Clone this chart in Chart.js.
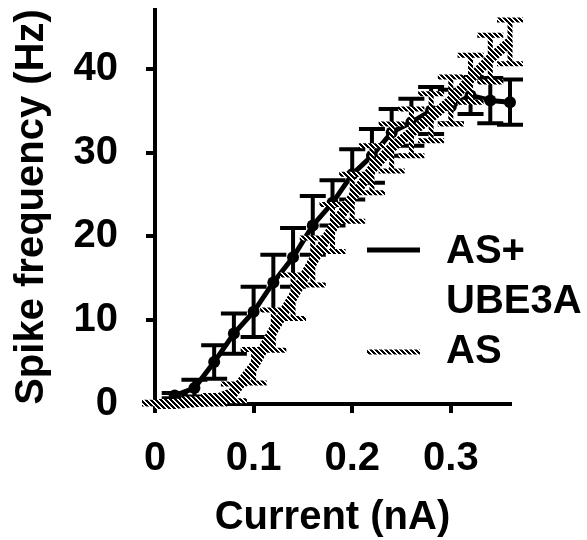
<!DOCTYPE html>
<html>
<head>
<meta charset="utf-8">
<script src="https://cdn.jsdelivr.net/npm/chart.js@4.4.0/dist/chart.umd.min.js"></script>
<style>
  html, body { margin: 0; padding: 0; background: #fff; }
</style>
</head>
<body>
<canvas id="spikeChart" width="587" height="540"></canvas>
<script>
// injected current steps (nA) and mean spike frequency (Hz) +/- SEM
var currentAS = [0, 0.02, 0.04, 0.06, 0.08, 0.10, 0.12, 0.14, 0.16, 0.18, 0.20, 0.22, 0.24, 0.26, 0.28, 0.30, 0.32, 0.34, 0.36];
var freqAS = [0, 0, 0.2, 0.5, 1.4, 4.5, 8.8, 12.8, 17.0, 21.0, 24.6, 28.0, 30.6, 32.4, 34.2, 36.2, 38.8, 41.2, 43.2];
var errAS = [0.2, 0.3, 0.4, 0.5, 1.0, 2.0, 2.4, 2.6, 2.8, 2.8, 2.8, 2.8, 2.8, 2.8, 2.8, 2.8, 2.8, 2.8, 2.6];

var currentUBE = [0.02, 0.04, 0.06, 0.08, 0.10, 0.12, 0.14, 0.16, 0.18, 0.20, 0.22, 0.24, 0.26, 0.28, 0.30, 0.32, 0.34, 0.36];
var freqUBE = [1.0, 1.9, 5.0, 8.4, 11.0, 14.5, 17.5, 21.3, 24.0, 27.4, 29.6, 32.4, 33.6, 35.0, 35.5, 36.8, 36.2, 36.0];
var errUBE = [0.3, 1.0, 2.0, 2.4, 3.0, 3.3, 3.5, 3.5, 2.7, 3.0, 3.2, 2.8, 2.8, 2.8, 2.0, 2.2, 2.7, 2.7];

var xTickValues = [0, 0.1, 0.2, 0.3];
var yTickValues = [0, 10, 20, 30, 40];
var legendUBE = ["AS+", "UBE3A"];
var legendAS = ["AS"];

var FONT = "'Liberation Sans', Arial, sans-serif";

// diagonal hatch used for the AS series
function makeHatch() {
    var c = document.createElement('canvas');
    c.width = 5; c.height = 5;
    var g = c.getContext('2d');
    g.fillStyle = '#fff';
    g.fillRect(0, 0, 5, 5);
    g.fillStyle = '#000';
    for (var y = 0; y < 5; y++) {
        for (var x = 0; x < 5; x++) {
            var d = ((x - y) % 5 + 5) % 5;
            if (d < 3) g.fillRect(x, y, 1, 1);
        }
    }
    return g.createPattern(c, 'repeat');
}
var hatch = makeHatch();

function toPoints(xs, ys) {
    return xs.map(function (x, i) { return { x: x, y: ys[i] }; });
}

var errorSets = [errAS, errUBE];
var errorWidths = [5, 4];

var errorBars = {
    id: 'errorBars',
    beforeDatasetDraw: function (chart, args) {
        var errs = errorSets[args.index];
        var ds = chart.data.datasets[args.index];
        var xs = chart.scales.x, ys = chart.scales.y, ctx = chart.ctx;
        ctx.save();
        ctx.strokeStyle = ds.borderColor;
        ctx.lineWidth = errorWidths[args.index];
        ds.data.forEach(function (p, i) {
            var e = errs[i];
            var px = xs.getPixelForValue(p.x);
            var top = ys.getPixelForValue(p.y + e);
            var bot = ys.getPixelForValue(Math.max(p.y - e, 0));
            ctx.beginPath();
            ctx.moveTo(px, top); ctx.lineTo(px, bot);
            ctx.moveTo(px - 13, top); ctx.lineTo(px + 13, top);
            ctx.moveTo(px - 13, bot); ctx.lineTo(px + 13, bot);
            ctx.stroke();
        });
        ctx.restore();
    }
};

var legendBox = {
    id: 'legendBox',
    afterDraw: function (chart) {
        var ctx = chart.ctx;
        ctx.save();
        ctx.fillStyle = '#000';
        ctx.font = 'bold 40px ' + FONT;
        ctx.textBaseline = 'middle';
        ctx.textAlign = 'left';
        ctx.strokeStyle = '#000';
        ctx.lineWidth = 5;
        ctx.beginPath(); ctx.moveTo(367, 250); ctx.lineTo(420, 250); ctx.stroke();
        ctx.fillText(legendUBE[0], 446, 252);
        ctx.fillText(legendUBE[1], 446, 302);
        ctx.strokeStyle = hatch;
        ctx.lineWidth = 5;
        ctx.beginPath(); ctx.moveTo(367, 352); ctx.lineTo(420, 352); ctx.stroke();
        ctx.fillText(legendAS[0], 446, 352);
        ctx.restore();
    }
};

var ctx = document.getElementById('spikeChart').getContext('2d');
var chart = new Chart(ctx, {
    type: 'scatter',
    data: {
        datasets: [{
            label: 'AS',
            data: toPoints(currentAS, freqAS),
            showLine: true,
            borderColor: hatch,
            backgroundColor: hatch,
            borderWidth: 10,
            pointRadius: 0,
            tension: 0,
            clip: false
        }, {
            label: 'AS+UBE3A',
            data: toPoints(currentUBE, freqUBE),
            showLine: true,
            borderColor: '#000',
            backgroundColor: '#000',
            borderWidth: 5,
            pointRadius: 6,
            pointBorderWidth: 0,
            tension: 0,
            clip: false
        }]
    },
    options: {
        responsive: false,
        devicePixelRatio: 1,
        animation: false,
        events: [],
        layout: { padding: { top: 10, right: 77, left: 0, bottom: 0 } },
        plugins: {
            legend: { display: false },
            tooltip: { enabled: false }
        },
        scales: {
            x: {
                type: 'linear',
                min: 0,
                max: 0.36,
                afterBuildTicks: function (s) { s.ticks = xTickValues.map(function (v) { return { value: v }; }); },
                afterFit: function (s) { s.height = 136; s.paddingLeft = 0; s.paddingRight = 0; },
                grid: { drawOnChartArea: false, color: '#000', lineWidth: 4, tickLength: 9 },
                border: { color: '#000', width: 4 },
                ticks: {
                    color: '#000',
                    padding: 22,
                    font: { family: FONT, size: 40, weight: 'bold' },
                    maxRotation: 0,
                    callback: function (v) { return String(v); }
                },
                title: {
                    display: true,
                    text: 'Current (nA)',
                    color: '#000',
                    font: { family: FONT, size: 40, weight: 'bold', lineHeight: 1 },
                    padding: { bottom: 2 }
                }
            },
            y: {
                type: 'linear',
                min: 0,
                max: 47,
                afterBuildTicks: function (s) { s.ticks = yTickValues.map(function (v) { return { value: v }; }); },
                afterFit: function (s) { s.width = 155; s.paddingTop = 0; s.paddingBottom = 0; },
                grid: { drawOnChartArea: false, color: '#000', lineWidth: 4, tickLength: 9 },
                border: { color: '#000', width: 4 },
                ticks: {
                    color: '#000',
                    padding: 28,
                    font: { family: FONT, size: 40, weight: 'bold' },
                    callback: function (v) { return String(v); }
                },
                title: {
                    display: true,
                    text: 'Spike frequency (Hz)',
                    color: '#000',
                    font: { family: FONT, size: 40, weight: 'bold', lineHeight: 1 },
                    padding: { top: 12 }
                }
            }
        }
    },
    plugins: [errorBars, legendBox]
});
</script>
</body>
</html>
